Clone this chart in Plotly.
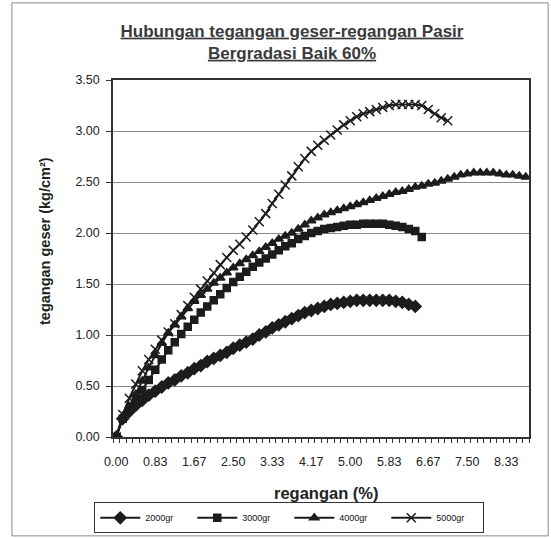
import plotly.graph_objects as go

# strain axis: one category per reading, a label every 6th reading
strain_labels = ["0.00", "0.83", "1.67", "2.50", "3.33", "4.17",
                 "5.00", "5.83", "6.67", "7.50", "8.33"]
label_pos = [0, 6, 12, 18, 24, 30, 36, 42, 48, 54, 60]

# shear stress (kg/cm2) per reading
s2000 = [0.00, 0.18, 0.25, 0.31, 0.36, 0.41, 0.45, 0.49, 0.53, 0.56,
         0.60, 0.63, 0.67, 0.70, 0.74, 0.77, 0.80, 0.83, 0.87, 0.90,
         0.93, 0.96, 1.00, 1.03, 1.07, 1.10, 1.13, 1.16, 1.19, 1.22,
         1.24, 1.26, 1.28, 1.30, 1.31, 1.32, 1.33, 1.34, 1.34, 1.34,
         1.34, 1.34, 1.34, 1.33, 1.32, 1.30, 1.28]
s3000 = [0.00, 0.18, 0.27, 0.36, 0.46, 0.56, 0.66, 0.76, 0.85, 0.93,
         1.01, 1.08, 1.15, 1.22, 1.28, 1.34, 1.40, 1.46, 1.52, 1.57,
         1.62, 1.67, 1.71, 1.75, 1.79, 1.83, 1.87, 1.90, 1.94, 1.97,
         2.00, 2.02, 2.04, 2.05, 2.06, 2.07, 2.08, 2.08, 2.09, 2.09,
         2.09, 2.09, 2.08, 2.07, 2.06, 2.04, 2.02, 1.96]
s4000 = [0.00, 0.20, 0.30, 0.42, 0.55, 0.68, 0.80, 0.92, 1.02, 1.10,
         1.18, 1.26, 1.33, 1.39, 1.45, 1.51, 1.56, 1.61, 1.66, 1.70,
         1.74, 1.78, 1.82, 1.86, 1.90, 1.94, 1.97, 2.00, 2.04, 2.08,
         2.12, 2.15, 2.18, 2.20, 2.22, 2.24, 2.26, 2.28, 2.30, 2.32,
         2.34, 2.36, 2.38, 2.40, 2.41, 2.43, 2.45, 2.46, 2.48, 2.49,
         2.51, 2.53, 2.55, 2.57, 2.58, 2.59, 2.59, 2.59, 2.59, 2.58,
         2.57, 2.57, 2.56, 2.55]
s5000 = [0.00, 0.22, 0.38, 0.52, 0.65, 0.76, 0.86, 0.95, 1.03, 1.11,
         1.20, 1.29, 1.37, 1.45, 1.53, 1.61, 1.69, 1.76, 1.83, 1.89,
         1.96, 2.03, 2.11, 2.19, 2.29, 2.38, 2.47, 2.56, 2.65, 2.73,
         2.80, 2.86, 2.91, 2.96, 3.01, 3.06, 3.10, 3.14, 3.17, 3.19,
         3.21, 3.23, 3.25, 3.26, 3.26, 3.26, 3.26, 3.25, 3.21, 3.17,
         3.13, 3.10]

series = [("2000gr", s2000, "diamond", 9),
          ("3000gr", s3000, "square", 7),
          ("4000gr", s4000, "triangle-up", 8),
          ("5000gr", s5000, "x-thin", 9)]

ink = "#1c1c1c"
fig = go.Figure()
for name, ys, sym, sz in series:
    fig.add_trace(go.Scatter(
        x=list(range(len(ys))), y=ys, mode="lines+markers", name=name,
        line=dict(color=ink, width=2),
        marker=dict(symbol=sym, size=sz, color=ink,
                    line=dict(color=ink, width=1.5)),
    ))

fig.update_layout(
    width=551, height=539,
    margin=dict(l=113, r=22, t=80, b=102, autoexpand=False),
    paper_bgcolor="white", plot_bgcolor="white",
    font=dict(family="Liberation Sans, Arial, sans-serif", color="#222", size=12),
    title=dict(
        text="<b><u>Hubungan tegangan geser-regangan Pasir</u></b><br>"
             "<b><u>Bergradasi Baik 60%</u></b>",
        x=0.53, xanchor="center", y=0.932, yanchor="top",
        font=dict(size=17, color="#3a3a3a"),
    ),
    showlegend=True,
    legend=dict(
        orientation="h", x=-0.045, xanchor="left", y=-0.183, yanchor="top",
        bordercolor="#333", borderwidth=1, font=dict(size=9, color="#111"),
        itemwidth=40, entrywidth=42, tracegroupgap=0,
    ),
)
fig.update_xaxes(
    range=[-0.5, 63.5], tickmode="array", tickvals=label_pos, ticktext=strain_labels,
    ticks="", showgrid=False, zeroline=False, ticklabelstandoff=12,
    showline=True, linecolor="#333", linewidth=1.5, mirror=True,
    minor=dict(tick0=-0.5, dtick=1, ticks="outside", ticklen=4,
               tickcolor="#333", showgrid=False),
    tickfont=dict(size=12.5),
)
fig.update_yaxes(
    range=[0, 3.5], dtick=0.5, tickformat=".2f",
    ticks="outside", ticklen=5, tickcolor="#333", ticklabelstandoff=4,
    showgrid=True, gridcolor="#8a8a8a", gridwidth=1, zeroline=False,
    showline=True, linecolor="#333", linewidth=1.5, mirror=True,
    tickfont=dict(size=12.5),
)
# axis titles
fig.add_annotation(text="<b>regangan (%)</b>", xref="paper", yref="paper",
                   x=0.514, y=-0.157, xanchor="center", yanchor="middle",
                   showarrow=False, font=dict(size=16.5))
fig.add_annotation(text="<b>tegangan geser (kg/cm²)</b>", xref="paper", yref="paper",
                   x=-0.165, y=0.55, xanchor="center", yanchor="middle",
                   textangle=-90, showarrow=False, font=dict(size=14.5))
# chart-area frame
fig.add_shape(type="rect", xref="paper", yref="paper",
              x0=-0.243, x1=1.046, y0=-0.277, y1=1.216,
              line=dict(color="#888", width=1))

# page body has a default 8px margin; drop it so the figure sits at (0, 0)
fig.write_html("out.html", config={"displayModeBar": False},
               post_script="document.body.style.margin='0';")
